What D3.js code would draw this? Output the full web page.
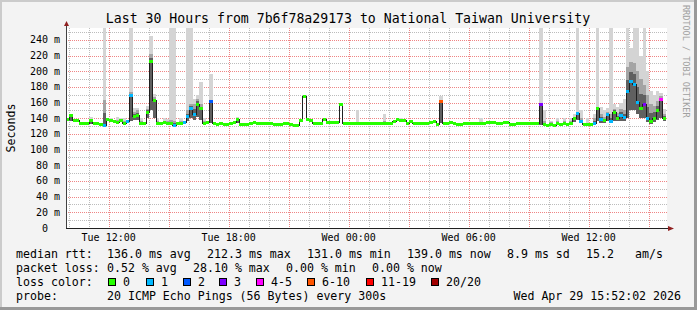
<!DOCTYPE html>
<html>
<head>
<meta charset="utf-8">
<script src="https://cdn.jsdelivr.net/npm/d3@7"></script>
<style>
  body { margin: 0; background: #f3f3f3; }
  svg { display: block; font-family: "DejaVu Sans Mono", monospace; }
  text { white-space: pre; }
</style>
</head>
<body>
<svg id="chart" width="697" height="310"></svg>
<script>
// median rtt in ms, one value per 10 minutes, Tue 09:52 .. Wed 15:52
const median = [
  138, 143, 137, 137, 134, 134, 133, 137, 133, 133,
  132, 131, 138, 137, 136, 135, 137, 134, 136, 169,
  142, 144, 134, 134, 148, 212.3, 163, 134, 133, 135,
  134, 133, 131, 134, 134, 135, 142, 153, 145, 158,
  152, 134, 135, 161, 133, 132, 133, 132, 132, 133,
  135, 138, 132, 132, 132, 133, 135, 133, 134, 133,
  133, 134, 132, 132, 132, 133, 133, 132, 131, 131,
  137, 168, 138, 137, 133, 133, 133, 138, 135, 135,
  135, 135, 158, 134, 134, 133, 133, 133, 133, 134,
  134, 134, 133, 133, 133, 133, 134, 134, 136, 139,
  137, 137, 133, 136, 133, 133, 133, 134, 134, 135,
  136, 132, 162, 134, 134, 135, 133, 132, 132, 133,
  134, 133, 134, 133, 133, 134, 135, 135, 135, 134,
  134, 135, 135, 132, 132, 134, 133, 133, 133, 134,
  133, 133, 158, 132, 131, 132, 131, 133, 132, 133,
  132, 133, 140, 146, 136, 132, 132, 132, 134, 153,
  138, 137, 145, 136, 148, 140, 143, 141, 174, 187,
  183, 160, 153, 158, 140, 136, 140, 150, 164, 140
];

// bins with packet loss, and their loss colour class (index into lossLabels)
const lossBins = [11, 18, 19, 32, 35, 36, 37, 38, 43, 112, 142, 153, 154, 158, 160, 162, 163, 166, 167, 168, 169, 170, 171, 173, 174, 178];
const lossCats = [ 1,  1,  1,  1,  1,  1,  1,  1,  2,   5,   3,   1,   1,   1,   1,   1,   1,   1,   1,   1,   1,   1,   1,   3,   1,   4];

// visible smoke (ping spread) in ms: low, inner band top, highest ping
const smokeBins = [1, 7, 11, 13, 15, 16, 17, 19, 20, 21, 22, 24, 25, 26, 27, 29, 30, 31, 32, 34, 36, 37, 38, 39, 40, 41, 43, 51, 87, 95, 100, 112, 124,
  142, 143, 145, 147, 149, 151, 152, 153, 154, 156, 158, 159, 160, 161, 162, 163, 164, 165, 166, 167, 168, 169, 170, 171, 172, 173, 174, 175, 176, 177, 178, 179];
const smokeLo = [137, 133, 130, 135, 134, 135, 133, 136, 138, 138, 133, 140, 150, 140, 133, 133, 133, 132, 130, 133, 136, 140, 138, 142, 138, 133, 134, 134, 132, 132, 136, 134, 132,
  132, 131, 131, 132, 132, 132, 135, 138, 134, 131, 132, 136, 134, 134, 136, 134, 137, 136, 137, 136, 140, 150, 150, 145, 140, 140, 135, 133, 135, 138, 140, 137];
const smokeMid = [144, 139, 163, 139, 138, 139, 137, 174, 148, 150, 137, 152, 222, 167, 137, 137, 136, 138, 137, 137, 150, 158, 158, 165, 158, 137, 164, 140, 135, 136, 139, 164, 135,
  160, 137, 135, 136, 137, 136, 142, 148, 140, 134, 140, 155, 145, 142, 148, 145, 152, 147, 152, 150, 205, 212, 210, 200, 190, 182, 170, 158, 156, 162, 168, 146];
const smokeTop = [146, 142, 256, 141, 142, 141, 141, 256, 153, 153, 140, 156, 245, 171, 140, 141, 139, 256, 256, 140, 256, 256, 165, 170, 187, 140, 197, 142, 150, 146, 141, 168, 140,
  256, 150, 137, 140, 141, 140, 145, 256, 150, 140, 145, 256, 155, 150, 153, 256, 158, 155, 160, 165, 256, 230, 256, 256, 220, 256, 200, 175, 170, 175, 172, 152];

const lossLabels = ['0', '1', '2', '3', '4-5', '6-10', '11-19', '20/20'];
const lossColors = ['#26ff00', '#00b8ff', '#0059ff', '#7e00ff', '#ff00ff', '#ff5500', '#ff0000', '#a10000'];

const yTickValues = [0, 20, 40, 60, 80, 100, 120, 140, 160, 180, 200, 220, 240];

const rttStats = ['136.0 ms avg', '212.3 ms max', '131.0 ms min', '139.0 ms now', '8.9 ms sd', '15.2', 'am/s'];
const lossStats = ['0.52 % avg', '28.10 % max', '0.00 % min', '0.00 % now'];

const title = 'Last 30 Hours from 7b6f78a29173 to National Taiwan University';
const probeText = '20 ICMP Echo Pings (56 Bytes) every 300s';
const stampText = 'Wed Apr 29 15:52:02 2026';

const tStart = new Date(2026, 3, 28, 9, 52, 2);
const tEnd = new Date(2026, 3, 29, 15, 52, 2);
const binMs = 10 * 60 * 1000;

const W = 697, H = 310;
const plot = {left: 66, right: 667, top: 28, bottom: 228};

const svg = d3.select('#chart');

// background + 3d frame
svg.append('rect').attr('width', W).attr('height', H).attr('fill', '#f3f3f3');
svg.append('rect').attr('x', 0).attr('y', 0).attr('width', W).attr('height', 2).attr('fill', '#cbcbcb');
svg.append('rect').attr('x', 0).attr('y', 0).attr('width', 2).attr('height', H).attr('fill', '#cbcbcb');
svg.append('rect').attr('x', W - 3).attr('y', 0).attr('width', 3).attr('height', H).attr('fill', '#999');
svg.append('rect').attr('x', 0).attr('y', H - 3).attr('width', W).attr('height', 3).attr('fill', '#999');

const xScale = d3.scaleTime().domain([tStart, tEnd]).range([66, 666]);
const yScale = d3.scaleLinear().domain([0, 255.3]).range([plot.bottom, plot.top]);

svg.append('rect')
  .attr('x', plot.left).attr('y', plot.top)
  .attr('width', plot.right - plot.left).attr('height', plot.bottom - plot.top)
  .attr('fill', '#fff');

svg.append('clipPath').attr('id', 'clip')
  .append('rect')
  .attr('x', plot.left).attr('y', plot.top)
  .attr('width', plot.right - plot.left).attr('height', plot.bottom - plot.top);

// grid
const grid = svg.append('g').attr('shape-rendering', 'crispEdges');
d3.range(10, 255, 10).forEach(v => {
  const major = v % 20 === 0;
  grid.append('line')
    .attr('x1', plot.left).attr('x2', plot.right)
    .attr('y1', Math.round(yScale(v)) + 0.5).attr('y2', Math.round(yScale(v)) + 0.5)
    .attr('stroke', major ? '#ef8585' : '#bcbcbc')
    .attr('stroke-dasharray', '1,1');
});
d3.timeHour.range(tStart, tEnd).forEach(t => {
  const major = t.getHours() % 3 === 0;
  const x = Math.round(xScale(t)) + 0.5;
  grid.append('line')
    .attr('x1', x).attr('x2', x)
    .attr('y1', plot.top).attr('y2', plot.bottom)
    .attr('stroke', major ? '#ef8585' : '#bcbcbc')
    .attr('stroke-dasharray', '1,1');
});

const binX = i => xScale(new Date(tStart.getTime() + i * binMs));

const data = g => g.attr('clip-path', 'url(#clip)').attr('shape-rendering', 'crispEdges');

// smoke
const smoke = svg.append('g').call(data);
smokeBins.forEach((b, k) => {
  const x0 = binX(b), x1 = binX(b + 1);
  const core = (median[b] + smokeMid[k]) / 2;
  [[smokeLo[k], smokeTop[k], '#d4d4d4'],
   [smokeLo[k], smokeMid[k], '#a4a4a4'],
   [smokeLo[k], core, '#606060']].forEach(([lo, hi, c]) => {
    smoke.append('rect')
      .attr('x', x0).attr('width', x1 - x0)
      .attr('y', yScale(hi)).attr('height', yScale(lo) - yScale(hi))
      .attr('fill', c);
  });
});

// median line
const pts = median.map((v, i) => [binX(i), yScale(v)]);
pts.push([binX(median.length), yScale(median[median.length - 1])]);
svg.append('path').call(data)
  .attr('d', d3.line().curve(d3.curveStepAfter)(pts))
  .attr('fill', 'none')
  .attr('stroke', '#202020')
  .attr('stroke-width', 1);

const lossOf = i => {
  const k = lossBins.indexOf(i);
  return k < 0 ? 0 : lossCats[k];
};
svg.append('g').call(data)
  .selectAll('rect').data(median).enter().append('rect')
  .attr('x', (d, i) => binX(i))
  .attr('width', (d, i) => binX(i + 1) - binX(i))
  .attr('y', d => yScale(d) - 1.5)
  .attr('height', 3)
  .attr('fill', (d, i) => lossColors[lossOf(i)]);

// axes
svg.append('line')
  .attr('x1', plot.left + 0.5).attr('x2', plot.left + 0.5)
  .attr('y1', plot.bottom + 0.5).attr('y2', 25)
  .attr('stroke', '#404040');
svg.append('line')
  .attr('x1', plot.left).attr('x2', 669)
  .attr('y1', plot.bottom + 0.5).attr('y2', plot.bottom + 0.5)
  .attr('stroke', '#202020');
svg.append('path').attr('d', 'M64,26 L69,26 L66.5,21 Z').attr('fill', '#902020');
svg.append('path').attr('d', 'M668,226 L668,231 L674,228.5 Z').attr('fill', '#902020');

// y tick labels
svg.append('g').selectAll('text').data(yTickValues).enter().append('text')
  .attr('x', 60)
  .attr('y', d => yScale(d) + 3.5)
  .attr('text-anchor', 'end')
  .attr('font-size', 10)
  .text(d => d === 0 ? '0  ' : d + ' m');

// x tick labels
svg.append('g').selectAll('text').data(d3.timeHour.every(6).range(tStart, tEnd)).enter().append('text')
  .attr('x', d => xScale(d))
  .attr('y', 241)
  .attr('text-anchor', 'middle')
  .attr('font-size', 10)
  .text(d3.timeFormat('%a %H:%M'));

// title and side labels
svg.append('text').attr('x', 348).attr('y', 23).attr('text-anchor', 'middle')
  .attr('font-size', 13.2).text(title);
svg.append('text').attr('transform', 'translate(14.5,128) rotate(-90)')
  .attr('text-anchor', 'middle').attr('font-size', 11.6).text('Seconds');
svg.append('text').attr('transform', 'translate(683,5) rotate(90)')
  .attr('font-size', 8.5).attr('fill', '#a0a0a0').text('RRDTOOL / TOBI OETIKER');

// legend
const legend = svg.append('g').attr('font-size', 11.6);
legend.append('text').attr('x', 16).attr('y', 258).text('median rtt:');
const rttX = [107, 207, 307, 407, 507, 586, 635];
rttStats.forEach((s, i) => legend.append('text').attr('x', rttX[i]).attr('y', 258).text(s));
legend.append('text').attr('x', 16).attr('y', 272).text('packet loss:');
const lossX = [107, 193, 286, 372];
lossStats.forEach((s, i) => legend.append('text').attr('x', lossX[i]).attr('y', 272).text(s));
legend.append('text').attr('x', 16).attr('y', 286).text('loss color:');
const boxX = [108, 146, 183, 219, 256, 307, 366, 431];
lossLabels.forEach((s, i) => {
  legend.append('rect').attr('x', boxX[i] + 0.5).attr('y', 278.5).attr('width', 7).attr('height', 7)
    .attr('fill', lossColors[i]).attr('stroke', '#000').attr('shape-rendering', 'crispEdges');
  legend.append('text').attr('x', boxX[i] + 15).attr('y', 286).text(s);
});
legend.append('text').attr('x', 16).attr('y', 300).text('probe:');
legend.append('text').attr('x', 107).attr('y', 300).text(probeText);
legend.append('text').attr('x', 681).attr('y', 300).attr('text-anchor', 'end').text(stampText);
</script>
</body>
</html>
